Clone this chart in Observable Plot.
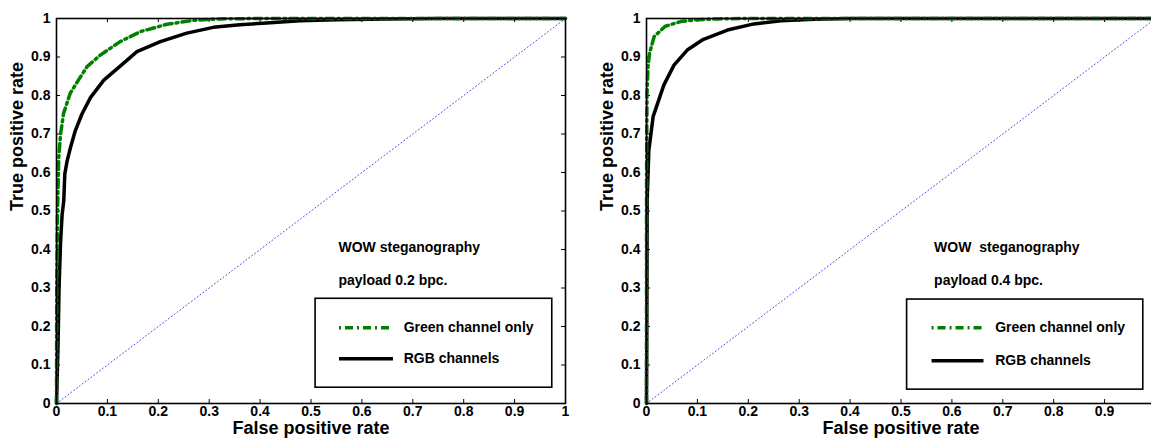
<!DOCTYPE html>
<html>
<head>
<meta charset="utf-8">
<script src="https://cdn.jsdelivr.net/npm/d3@7"></script>
<script src="https://cdn.jsdelivr.net/npm/@observablehq/plot@0.6"></script>
<style>
  html, body { margin: 0; padding: 0; background: #fff; }
  #wrap { position: relative; width: 1151px; height: 440px; overflow: hidden; }
  #wrap > div { position: absolute; top: 0; width: 580px; height: 440px; }
  #wrap svg { overflow: visible; max-width: none !important; width: 580px; height: 440px; }
</style>
</head>
<body>
<div id="wrap"><div id="left"></div><div id="right"></div></div>
<script>
// ---- data ----
const xTicks = [0, 0.1, 0.2, 0.3, 0.4, 0.5, 0.6, 0.7, 0.8, 0.9, 1];
const yTicks = [0, 0.1, 0.2, 0.3, 0.4, 0.5, 0.6, 0.7, 0.8, 0.9, 1];
const a_xTickLabels = [0, 0.1, 0.2, 0.3, 0.4, 0.5, 0.6, 0.7, 0.8, 0.9, 1];
const b_xTickLabels = [0, 0.1, 0.2, 0.3, 0.4, 0.5, 0.6, 0.7, 0.8, 0.9];
const chanceLine = [0, 1];
const seriesNames = ["Green channel only", "RGB channels"];
const xLabel = "False positive rate";
const yLabel = "True positive rate";

// Panel A: WOW payload 0.2 bpc
const a_titleLines = ["WOW steganography", "payload 0.2 bpc."];
const a_greenFpr = [0, 0.0005, 0.002, 0.0045, 0.008, 0.014, 0.027, 0.043, 0.06, 0.086, 0.125, 0.165, 0.217, 0.268, 0.32, 0.4, 0.6, 0.8, 1];
const a_greenTpr = [0, 0.3, 0.5, 0.64, 0.70, 0.754, 0.806, 0.84, 0.875, 0.905, 0.94, 0.966, 0.985, 0.995, 0.999, 1, 1, 1, 1];
const a_rgbFpr = [0, 0.001, 0.003, 0.005, 0.008, 0.011, 0.0143, 0.0163, 0.021, 0.0275, 0.037, 0.05, 0.067, 0.093, 0.132, 0.158, 0.204, 0.256, 0.308, 0.36, 0.413, 0.478, 0.55, 0.65, 0.75, 1];
const a_rgbTpr = [0, 0.05, 0.15, 0.3, 0.42, 0.49, 0.527, 0.596, 0.631, 0.665, 0.709, 0.752, 0.795, 0.84, 0.884, 0.914, 0.94, 0.962, 0.977, 0.984, 0.988, 0.994, 0.997, 0.999, 1, 1];

// Panel B: WOW payload 0.4 bpc
const b_titleLines = ["WOW  steganography", "payload 0.4 bpc."];
const b_greenFpr = [0, 0, 0.0005, 0.001, 0.003, 0.006, 0.015, 0.037, 0.067, 0.1, 0.14, 0.2, 0.5, 1];
const b_greenTpr = [0, 0.5, 0.7, 0.806, 0.875, 0.91, 0.953, 0.98, 0.992, 0.997, 0.999, 1, 1, 1];
const b_rgbFpr = [0, 0.0005, 0.001, 0.0013, 0.0046, 0.013, 0.024, 0.034, 0.054, 0.08, 0.112, 0.159, 0.211, 0.264, 0.33, 0.4, 0.5, 1];
const b_rgbTpr = [0, 0.15, 0.35, 0.528, 0.658, 0.745, 0.788, 0.827, 0.879, 0.918, 0.946, 0.97, 0.986, 0.994, 0.998, 1, 1, 1];

// ---- layout / style ----
const FONT = "'Liberation Sans', Arial, Helvetica, sans-serif";
const GREEN = "#008000";
const M = {top: 18, right: 15, bottom: 37, left: 56};
const W = 580, H = 440;
const TICK = 4;
const innerW = W - M.left - M.right;
const innerH = H - M.top - M.bottom;
const GREEN_DASH = "8,4,2,4";

function zip(xs, ys) { return xs.map((x, i) => ({x, y: ys[i]})); }

function panel(green, rgb, titleLines, xLabels, lg) {
  const tx = TICK / innerW, ty = TICK / innerH;
  return Plot.plot({
    width: W, height: H,
    marginTop: M.top, marginRight: M.right, marginBottom: M.bottom, marginLeft: M.left,
    x: {domain: [0, 1], axis: null},
    y: {domain: [0, 1], axis: null},
    style: {fontFamily: FONT, fontSize: "14px", fontWeight: "bold", color: "black", background: "white"},
    marks: [
      Plot.axisX(xLabels, {anchor: "bottom", tickSize: 0, tickPadding: 3, tickFormat: d => String(d), fontSize: 14, fontWeight: "bold", label: null}),
      Plot.axisY(yTicks, {anchor: "left", tickSize: 0, tickPadding: 6, tickFormat: d => String(d), fontSize: 14, fontWeight: "bold", label: null}),
      // inward ticks on all four sides
      Plot.ruleX(xTicks, {x: d => d, y1: 0, y2: ty, stroke: "black", strokeWidth: 1}),
      Plot.ruleX(xTicks, {x: d => d, y1: 1, y2: 1 - ty, stroke: "black", strokeWidth: 1}),
      Plot.ruleY(yTicks, {y: d => d, x1: 0, x2: tx, stroke: "black", strokeWidth: 1}),
      Plot.ruleY(yTicks, {y: d => d, x1: 1, x2: 1 - tx, stroke: "black", strokeWidth: 1}),
      // chance diagonal
      Plot.line(chanceLine, {x: d => d, y: d => d, stroke: "#4a4ae0", strokeWidth: 1, strokeDasharray: "1,2.6"}),
      // ROC curves
      Plot.line(rgb, {x: "x", y: "y", stroke: "black", strokeWidth: 3.5}),
      Plot.line(green, {x: "x", y: "y", stroke: GREEN, strokeWidth: 3.5, strokeDasharray: GREEN_DASH}),
      Plot.frame({stroke: "black", strokeWidth: 1.6}),
      // annotation text
      Plot.text(titleLines, {x: lg.textX, y: (d, i) => lg.titleY[i], text: d => d, textAnchor: "start", fontSize: 14, fontWeight: "bold", fill: "black"}),
      // legend box
      Plot.rect([0], {x1: lg.box[0], x2: lg.box[1], y1: lg.box[2], y2: lg.box[3], fill: "white", stroke: "black", strokeWidth: 1.6}),
      Plot.ruleY([0], {y: lg.rowY[0], x1: lg.sample[0], x2: lg.sample[1], stroke: GREEN, strokeWidth: 3.5, strokeDasharray: "2,4,8,4"}),
      Plot.ruleY([0], {y: lg.rowY[1], x1: lg.sample[0], x2: lg.sample[1], stroke: "black", strokeWidth: 3.5}),
      Plot.text(seriesNames, {x: lg.labelX, y: (d, i) => lg.rowY[i], text: d => d, textAnchor: "start", fontSize: 14, fontWeight: "bold", fill: "black"}),
      // axis titles
      Plot.text([xLabel], {frameAnchor: "bottom", dy: 30, text: d => d, fontSize: 18, fontWeight: "bold", fill: "black"}),
      Plot.text([yLabel], {frameAnchor: "left", dx: -39, rotate: -90, text: d => d, fontSize: 18, fontWeight: "bold", fill: "black"})
    ]
  });
}

const legendA = {textX: 0.554, titleY: [0.405, 0.319], box: [0.509, 0.974, 0.041, 0.272], sample: [0.556, 0.662], rowY: [0.197, 0.116], labelX: 0.682};
const legendB = {textX: 0.565, titleY: [0.405, 0.319], box: [0.512, 0.976, 0.036, 0.27], sample: [0.561, 0.663], rowY: [0.197, 0.111], labelX: 0.685};

const left = document.getElementById("left");
const right = document.getElementById("right");
left.style.left = "0px";
right.style.left = "590px";
left.appendChild(panel(zip(a_greenFpr, a_greenTpr), zip(a_rgbFpr, a_rgbTpr), a_titleLines, a_xTickLabels, legendA));
right.appendChild(panel(zip(b_greenFpr, b_greenTpr), zip(b_rgbFpr, b_rgbTpr), b_titleLines, b_xTickLabels, legendB));
</script>
</body>
</html>
